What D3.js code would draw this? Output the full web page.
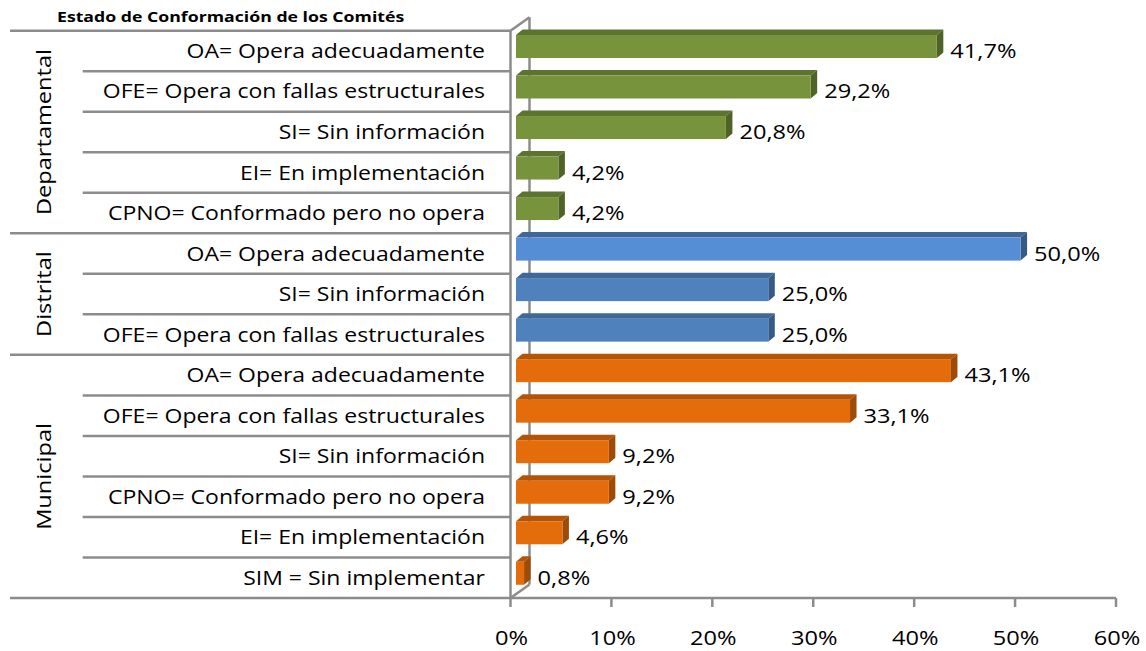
<!DOCTYPE html>
<html>
<head>
<meta charset="utf-8">
<script src="https://cdn.jsdelivr.net/npm/d3@7"></script>
<style>
  html, body { margin: 0; padding: 0; background: #fff; }
  svg text { font-family: "Open Sans", Lato, sans-serif; fill: #000; }
</style>
</head>
<body>
<div id="chart"></div>
<script>
// Estado de Conformación de los Comités - 3D horizontal bars grouped by level
const width = 1146;
const height = 651;

const groups = ['Departamental', 'Distrital', 'Municipal'];
const deptLabels = ['OA= Opera adecuadamente', 'OFE= Opera con fallas estructurales', 'SI= Sin información', 'EI= En implementación', 'CPNO= Conformado pero no opera'];
const deptValues = [41.7, 29.2, 20.8, 4.2, 4.2];
const distLabels = ['OA= Opera adecuadamente', 'SI= Sin información', 'OFE= Opera con fallas estructurales'];
const distValues = [50.0, 25.0, 25.0];
const muniLabels = ['OA= Opera adecuadamente', 'OFE= Opera con fallas estructurales', 'SI= Sin información', 'CPNO= Conformado pero no opera', 'EI= En implementación', 'SIM = Sin implementar'];
const muniValues = [43.1, 33.1, 9.2, 9.2, 4.6, 0.8];
const xTicks = [0, 10, 20, 30, 40, 50, 60];

const palette = {
    Departamental: { front: '#77933c', top: '#5c7430', side: '#4f6228' },
    Distrital: { front: '#4f81bd', top: '#3f6899', side: '#365a85' },
    Municipal: { front: '#e46c0a', top: '#b35508', side: '#9e4b07' }
};

// build rows
const rows = [];
[[deptLabels, deptValues], [distLabels, distValues], [muniLabels, muniValues]].forEach(([labels, values], gi) => {
    labels.forEach((l, i) => rows.push({ group: groups[gi], label: l, value: values[i], first: i === 0, key: gi + '-' + i }));
});

const plot = { left: 510.5, right: 1116, top: 30.7, bottom: 598 };
const wall = { dx: 19, dy: -13.5 };
const depth = { dx: 6.5, dy: -5.5 };
const lineColor = '#8c8c8c';
const fs = '20px';
const stretch = 1.18; // original font is drawn wider than Open Sans

const x = d3.scaleLinear().domain([0, 60]).range([plot.left, plot.right]);
const y = d3.scaleBand().domain(rows.map(d => d.key)).range([plot.top, plot.bottom]).padding(0);

const svg = d3.select('#chart').append('svg')
    .attr('width', width)
    .attr('height', height);

// title
svg.append('text')
    .attr('transform', `translate(57,22) scale(1.18,1)`)
    .style('font-size', '15px')
    .style('font-weight', 'bold')
    .text('Estado de Conformación de los Comités');

// back wall + floor diagonals
svg.append('line')
    .attr('x1', plot.left + wall.dx).attr('x2', plot.left + wall.dx)
    .attr('y1', plot.top + wall.dy).attr('y2', plot.bottom + wall.dy)
    .attr('stroke', lineColor).attr('stroke-width', 2.5);
svg.append('line')
    .attr('x1', plot.left).attr('y1', plot.top)
    .attr('x2', plot.left + wall.dx).attr('y2', plot.top + wall.dy)
    .attr('stroke', lineColor).attr('stroke-width', 2.5);
svg.append('line')
    .attr('x1', plot.left).attr('y1', plot.bottom)
    .attr('x2', plot.left + wall.dx).attr('y2', plot.bottom + wall.dy)
    .attr('stroke', lineColor).attr('stroke-width', 2.5);

// category separators
svg.selectAll('.sep')
    .data(rows)
    .enter()
    .append('line')
    .attr('x1', d => d.first ? 10 : 82.7)
    .attr('x2', plot.left)
    .attr('y1', d => y(d.key))
    .attr('y2', d => y(d.key))
    .attr('stroke', lineColor)
    .attr('stroke-width', 2.5);

// bottom axis line
svg.append('line')
    .attr('x1', 10).attr('x2', plot.right)
    .attr('y1', plot.bottom).attr('y2', plot.bottom)
    .attr('stroke', lineColor).attr('stroke-width', 2.5);

// front vertical axis
svg.append('line')
    .attr('x1', plot.left).attr('x2', plot.left)
    .attr('y1', plot.top).attr('y2', plot.bottom)
    .attr('stroke', lineColor).attr('stroke-width', 2.5);

// x ticks
svg.selectAll('.tick')
    .data(xTicks)
    .enter()
    .append('line')
    .attr('x1', d => x(d)).attr('x2', d => x(d))
    .attr('y1', plot.bottom).attr('y2', plot.bottom + 9)
    .attr('stroke', lineColor).attr('stroke-width', 2.5);

svg.selectAll('.tick-label')
    .data(xTicks)
    .enter()
    .append('text')
    .attr('transform', d => `translate(${x(d) + 1},645) scale(${stretch},1)`)
    .attr('text-anchor', 'middle')
    .style('font-size', fs)
    .text(d => d + '%');

// bars
const barTop = 4.3;
const barH = 23;
const barOff = 5.5;

const bars = svg.selectAll('.bar')
    .data(rows)
    .enter()
    .append('g')
    .attr('class', 'bar');

bars.append('path')
    .attr('fill', d => palette[d.group].top)
    .attr('d', d => {
        const x0 = x(0) + barOff, x1 = x(d.value) + barOff, y0 = y(d.key) + barTop;
        return `M${x0},${y0}L${x0 + depth.dx},${y0 + depth.dy}L${x1 + depth.dx},${y0 + depth.dy}L${x1},${y0}Z`;
    });

bars.append('path')
    .attr('fill', d => palette[d.group].side)
    .attr('d', d => {
        const x1 = x(d.value) + barOff, y0 = y(d.key) + barTop;
        return `M${x1},${y0}L${x1 + depth.dx},${y0 + depth.dy}L${x1 + depth.dx},${y0 + barH + depth.dy}L${x1},${y0 + barH}Z`;
    });

bars.append('rect')
    .attr('x', x(0) + barOff)
    .attr('y', d => y(d.key) + barTop)
    .attr('width', d => x(d.value) - x(0))
    .attr('height', barH)
    .attr('fill', d => (d.group === 'Distrital' && d.first) ? '#558ed5' : palette[d.group].front);

// value labels
svg.selectAll('.value')
    .data(rows)
    .enter()
    .append('text')
    .attr('transform', d => `translate(${x(d.value) + barOff + depth.dx + 7},${y(d.key) + y.bandwidth() / 2 + 7}) scale(${stretch},1)`)
    .style('font-size', fs)
    .text(d => d.value.toFixed(1).replace('.', ',') + '%');

// category labels
svg.selectAll('.cat')
    .data(rows)
    .enter()
    .append('text')
    .attr('transform', d => `translate(485,${y(d.key) + y.bandwidth() / 2 + 7}) scale(1.15,1)`)
    .attr('text-anchor', 'end')
    .style('font-size', fs)
    .text(d => d.label);

// group labels
groups.forEach(g => {
    const gr = rows.filter(d => d.group === g);
    const y0 = y(gr[0].key);
    const y1 = y(gr[gr.length - 1].key) + y.bandwidth();
    svg.append('text')
        .attr('transform', `translate(51,${(y0 + y1) / 2}) rotate(-90) scale(${stretch},1)`)
        .attr('text-anchor', 'middle')
        .style('font-size', fs)
        .text(g);
});
</script>
</body>
</html>
